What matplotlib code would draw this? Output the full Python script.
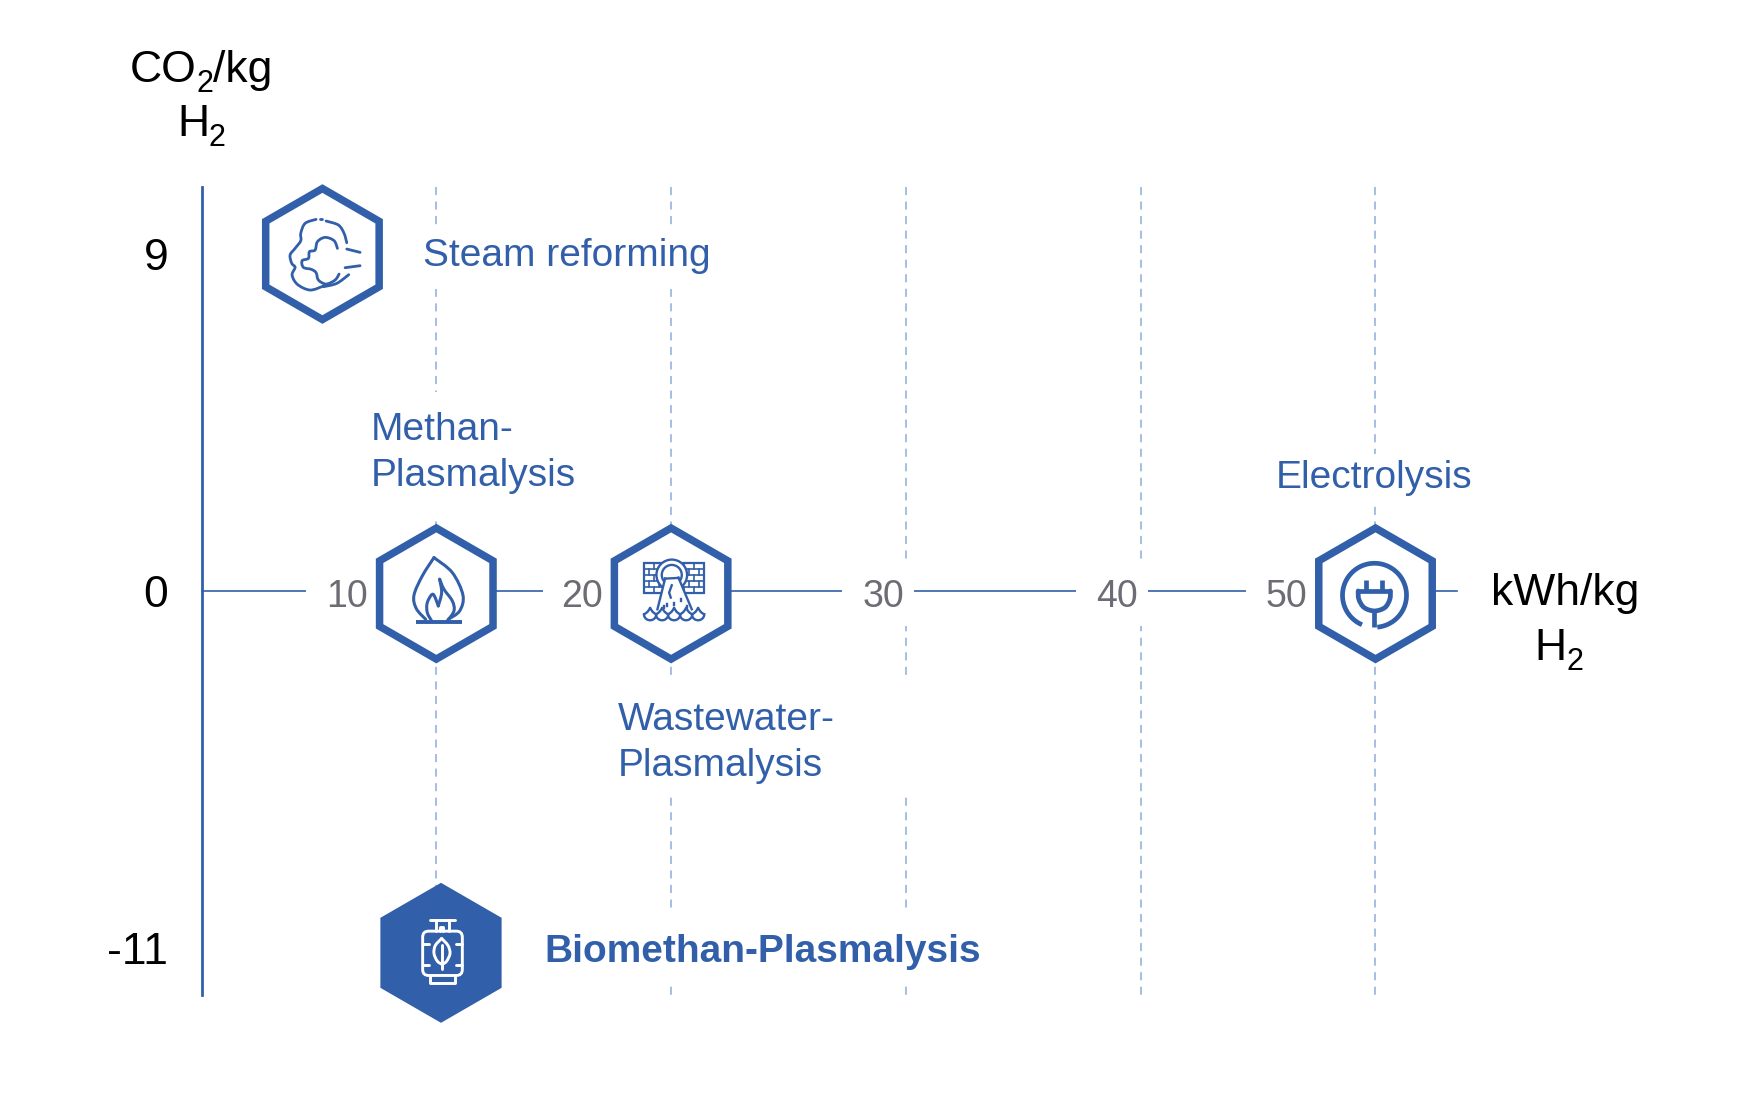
import numpy as np
import matplotlib
matplotlib.use("Agg")
import matplotlib.pyplot as plt
from matplotlib.patches import Polygon, Rectangle, PathPatch, Circle, FancyBboxPatch
from matplotlib.path import Path
from matplotlib.ticker import NullLocator
from matplotlib.transforms import Affine2D

plt.rcParams['font.family'] = ['Liberation Sans', 'DejaVu Sans']

# values
techs = ["Steam reforming", "Methan-\nPlasmalysis", "Wastewater-\nPlasmalysis", "Electrolysis", "Biomethan-Plasmalysis"]
energy = [5.15, 10, 20, 50, 10.2]
co2 = [9, -0.08, -0.08, -0.08, -11.15]
x_ticks = [10, 20, 30, 40, 50]
y_ticks = [9, 0, -11]

BLUE = "#325fa9"
GRID = "#a6bfe3"
GREY = "#6c6c74"
W, H = 1758, 1094

fig = plt.figure(figsize=(W / 100, H / 100), dpi=100)
ax = fig.add_axes([0, 0, 1, 1])


# the y axis is not linear in the original: upper and lower part differ
def y_fwd(y):
    y = np.asarray(y, dtype=float)
    return np.where(y >= 0, y * 37.44, y * 32.45)


def y_inv(p):
    p = np.asarray(p, dtype=float)
    return np.where(p >= 0, p / 37.44, p / 32.45)


ax.set_yscale('function', functions=(y_fwd, y_inv))
ax.set_xlim(-201.5 / 23.48, (W - 201.5) / 23.48)
ax.set_ylim(-(H - 591) / 32.45, 591 / 37.44)
ax.patch.set_alpha(0)

# pixel coordinates of the picture, y going down
px = Affine2D().scale(1, -1).translate(0, H)

ax.spines[['top', 'right']].set_visible(False)
ax.spines['left'].set_position(('data', 0))
ax.spines['bottom'].set_position(('data', 0))
ax.spines['left'].set_bounds(-12.45, 10.79)
ax.spines['bottom'].set_bounds(0, 53.47)
ax.spines['left'].set_color(BLUE)
ax.spines['left'].set_linewidth(2.0)
ax.spines['bottom'].set_color(BLUE)
ax.spines['bottom'].set_linewidth(1.2)
ax.spines['left'].set_zorder(1)
ax.spines['bottom'].set_zorder(1)

ax.set_xticks([])
ax.set_yticks(y_ticks)
ax.set_yticklabels([str(v) for v in y_ticks], fontsize=32, color='black')
ax.yaxis.set_minor_locator(NullLocator())
ax.tick_params(axis='y', length=0, pad=24)

# drawn top to bottom so the dash pattern starts at the top
ax.vlines(x_ticks, 10.79, -12.45, color=GRID, lw=1.45, linestyles=(0, (4, 3.22)), zorder=0.5)

# white gaps that cut the grid and the axis around the labels
gaps = [(423, 230, 712, 289), (371, 392, 580, 521), (1270, 454, 1480, 505),
        (618, 676, 940, 793), (546, 910, 985, 981),
        (306, 560, 390, 625), (543, 560, 620, 625), (842, 561, 914, 626),
        (1076, 561, 1148, 626), (1246, 560, 1320, 625)]
for x0, y0, x1, y1 in gaps:
    ax.add_patch(Rectangle((x0, y0), x1 - x0, y1 - y0, fc='white', ec='none', transform=px, zorder=2))

# tick numbers sit beside their grid line
tick_shift = [-89, -89, -22, -24, -89]
for v, dx in zip(x_ticks, tick_shift):
    ax.annotate(str(v), (v, 0), xytext=(dx * 0.72, -6 * 0.72), textcoords='offset points',
                ha='center', va='center', fontsize=27, color=GREY, zorder=5)


def base(x, y, s, size=32):
    ax.text(x, y, s, transform=px, ha='left', va='baseline', fontsize=size, color='black')


# axis titles, subscripts placed by hand because they sit lower than mathtext puts them
base(130, 81.7, "CO")
base(196, 92, "2", 22)
base(213, 81.7, "/kg")
base(177, 136, "H")
base(209, 146, "2", 22)
base(1491, 605, "kWh/kg")
base(1534, 660, "H")
base(1566, 670, "2", 22)

# technology labels
label_xy = [(423, 256), (371, 453), (618, 743), (1276, 478), (544, 952)]
for name, (lx, ly) in zip(techs, label_xy):
    bold = name.startswith("Bio")
    ax.text(lx, ly, name, transform=px, ha='left', va='center', fontsize=28, color=BLUE,
            fontweight='bold' if bold else 'normal', linespacing=1.33, zorder=5)


def smooth(pts):
    # catmull-rom through the points, as a bezier path
    pts = np.array(pts, dtype=float)
    p = np.vstack([pts[0], pts, pts[-1]])
    verts = [pts[0]]
    codes = [Path.MOVETO]
    for i in range(1, len(p) - 2):
        verts += [p[i] + (p[i + 1] - p[i - 1]) / 6, p[i + 1] - (p[i + 2] - p[i]) / 6, p[i + 1]]
        codes += [Path.CURVE4] * 3
    return Path(verts, codes)


def hexagon(cx, cy, filled=False):
    R = 70 if filled else 65.5
    ang = np.radians(np.arange(6) * 60 + 90)
    pts = np.c_[cx + R * np.cos(ang), cy - R * np.sin(ang)]
    ax.add_patch(Polygon(pts, closed=True, transform=px, zorder=6, joinstyle='miter',
                         fc=BLUE if filled else 'white', ec=BLUE, lw=0 if filled else 5.4))


def icon_tf(cx, cy, ox, oy):
    # icon shapes are in zoomed (3x) pixels around (ox, oy)
    return Affine2D().translate(-ox, -oy).scale(1 / 3).translate(cx, cy) + px


def curve(pts, tf, lw, ec=BLUE, z=7):
    ax.add_patch(PathPatch(smooth(pts), fc='none', ec=ec, lw=lw, transform=tf, zorder=z, capstyle='round'))


def steam_icon(cx, cy):
    tf = icon_tf(cx, cy, 247, 252)
    lines = [
        [(228, 148), (195, 160), (182, 190), (182, 212), (165, 235), (150, 255), (155, 280), (165, 292), (156, 315), (172, 343), (210, 360), (250, 348)],
        [(292, 235), (282, 212), (255, 202), (232, 215), (225, 240), (208, 245), (205, 265), (186, 272), (190, 292), (214, 298), (228, 308), (235, 330), (258, 342), (285, 330), (297, 312)],
        [(258, 153), (295, 165), (312, 190), (320, 218)],
        [(250, 350), (290, 340), (326, 314)],
    ]
    for ln in lines:
        curve(ln, tf, 2.0)
    kw = dict(color=BLUE, lw=2.0, transform=tf, zorder=7, solid_capstyle='round')
    ax.plot([320, 360], [237, 247], **kw)
    ax.plot([315, 360], [293, 287], **kw)
    ax.plot([240, 246], [148, 148], **kw)


def flame_icon(cx, cy):
    tf = icon_tf(cx, cy, 232, 253)
    lines = [
        [(225, 145), (190, 200), (165, 258), (172, 298), (200, 330)],
        [(225, 145), (280, 190), (312, 258), (302, 305), (268, 330)],
        [(242, 210), (255, 240), (280, 275), (285, 305), (265, 335)],
        [(242, 210), (248, 250), (238, 290)],
        [(238, 290), (222, 255), (205, 280), (205, 310), (218, 335)],
    ]
    for ln in lines:
        curve(ln, tf, 2.2)
    ax.plot([172, 308], [339, 339], color=BLUE, lw=2.8, transform=tf, zorder=7, solid_capstyle='butt')


def wastewater_icon(cx, cy):
    tf = icon_tf(cx, cy, 936, 253)
    kw = dict(color=BLUE, lw=1.2, transform=tf, zorder=7)
    ax.add_patch(Rectangle((855, 160), 181, 90, fc='none', ec=BLUE, lw=1.6, transform=tf, zorder=7))
    for i, y in enumerate(range(160, 250, 18)):
        ax.plot([855, 1036], [y, y], **kw)
        for x in range(855 + (i % 2) * 15, 1036, 30):
            ax.plot([x, x], [y, y + 18], **kw)
    ax.add_patch(Circle((938, 197), 46, fc='white', ec=BLUE, lw=1.7, transform=tf, zorder=7.1))
    ax.add_patch(Circle((938, 197), 30, fc='white', ec=BLUE, lw=1.7, transform=tf, zorder=7.1))
    ax.add_patch(Polygon([(918, 208), (958, 208), (1000, 305), (893, 305)], closed=True, fc='white', ec='none', transform=tf, zorder=7.2))
    kw2 = dict(color=BLUE, lw=1.7, transform=tf, zorder=7.3)
    ax.plot([918, 895], [208, 300], **kw2)
    ax.plot([958, 998], [205, 300], **kw2)
    ax.plot([918, 958], [208, 206], **kw2)
    ax.plot([938, 930, 935], [228, 250, 265], **kw2)
    for x, y in [(925, 285), (945, 280), (965, 270), (915, 290), (985, 290)]:
        ax.plot([x, x], [y, y + 6], **kw2)
    ax.add_patch(Rectangle((853, 300), 186, 40, fc='white', ec='none', transform=tf, zorder=7.25))
    t = np.radians(np.linspace(0, 180, 30))
    for x in [873, 909, 945, 981, 1017]:
        ax.plot(x + 18.5 * np.cos(t), 315 + 18 * np.sin(t), **kw2)
        curve([(x - 18, 315), (x - 8, 308), (x, 296)], tf, 1.7, z=7.3)
        curve([(x + 18, 315), (x + 8, 308), (x, 296)], tf, 1.7, z=7.3)


def plug_icon(cx, cy):
    tf = icon_tf(cx, cy, 230, 253)
    kw = dict(color=BLUE, lw=3.4, transform=tf, zorder=7, solid_capstyle='butt')
    # ring runs clockwise on screen, open at the lower left
    t = np.radians(np.linspace(113, 445, 90))
    ax.plot(227 + 96 * np.cos(t), 258 + 96 * np.sin(t), **kw)
    ax.plot([178, 275], [245, 245], **kw)
    curve([(178, 245), (180, 270), (196, 295), (227, 305), (258, 295), (273, 270), (275, 245)], tf, 3.4)
    ax.plot([203, 203], [212, 245], **kw)
    ax.plot([250, 250], [212, 245], **kw)
    ax.plot([226, 226], [305, 354], **kw)


def cylinder_icon(cx, cy):
    tf = icon_tf(cx, cy, 241, 250)
    ec = 'white'
    ax.add_patch(FancyBboxPatch((186, 185), 119, 133, boxstyle="round,pad=0,rounding_size=18", fc='none', ec=ec, lw=2.1, transform=tf, zorder=7))
    kw = dict(color=ec, lw=2.1, transform=tf, zorder=7, solid_capstyle='round')
    ax.plot([208, 284], [153, 153], **kw)
    ax.plot([226, 226], [153, 185], **kw)
    ax.plot([266, 266], [153, 185], **kw)
    ax.plot([238, 238, 248, 248], [185, 172, 172, 185], **kw)
    ax.plot([208, 208, 283, 283], [320, 342, 342, 320], **kw)
    ax.plot([245, 245], [228, 298], **kw)
    ax.plot([186, 205], [225, 225], **kw)
    ax.plot([286, 305], [225, 225], **kw)
    ax.plot([186, 205], [288, 288], **kw)
    ax.plot([286, 305], [288, 288], **kw)
    curve([(243, 207), (224, 228), (220, 252), (230, 275), (245, 285)], tf, 2.1, ec=ec)
    curve([(243, 207), (262, 228), (268, 252), (258, 275), (245, 285)], tf, 2.1, ec=ec)


icons = [steam_icon, flame_icon, wastewater_icon, plug_icon, cylinder_icon]
for e, c, icon, name in zip(energy, co2, icons, techs):
    dx, dy = ax.transData.transform((e, c))
    cx, cy = dx, H - dy
    hexagon(cx, cy, filled=name.startswith("Bio"))
    icon(cx, cy)

fig.savefig("out.png", dpi=100)
